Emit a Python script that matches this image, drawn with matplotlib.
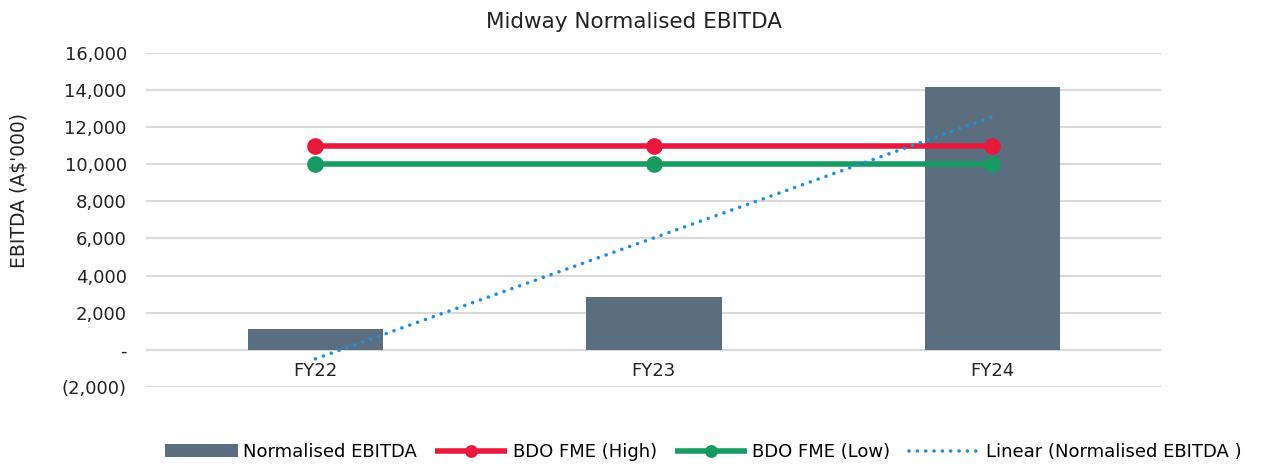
import numpy as np
import matplotlib
matplotlib.use("Agg")
import matplotlib.pyplot as plt
from matplotlib.ticker import FuncFormatter

# ---- data ----
years = ["FY22", "FY23", "FY24"]
ebitda = [1100, 2850, 14150]
fme_high = [11000, 11000, 11000]
fme_low = [10000, 10000, 10000]

BAR_C = "#5B6E80"
RED = "#E8193C"
GREEN = "#169B62"
BLUE = "#1F8FD6"
TXT = "#222222"

plt.rcParams["font.family"] = ["DejaVu Sans"]


def fmt(v, pos):
    if abs(v) < 1e-9:
        return "-"
    if v < 0:
        return f"({abs(v):,.0f})"
    return f"{v:,.0f}"


def main():
    fig = plt.figure(figsize=(12.61, 4.66), dpi=100)
    ax = fig.add_axes([0.116, 0.170, 0.805, 0.716])

    x = np.arange(len(years))
    h_bar = ax.bar(x, ebitda, width=0.4, color=BAR_C, label="Normalised EBITDA", zorder=2)
    h_hi, = ax.plot(x, fme_high, color=RED, lw=4, marker="o", ms=11,
                    label="BDO FME (High)", zorder=3, solid_capstyle="butt")
    h_lo, = ax.plot(x, fme_low, color=GREEN, lw=4, marker="o", ms=11,
                    label="BDO FME (Low)", zorder=3, solid_capstyle="butt")

    # linear trendline through the bar series
    k, b = np.polyfit(x, ebitda, 1)
    h_lin, = ax.plot(x, k * x + b, color=BLUE, lw=2.6, linestyle=(0, (0.01, 2.3)),
                     dash_capstyle="round", label="Linear (Normalised EBITDA )", zorder=4)

    ax.set_xlim(-0.5, 2.5)
    ax.set_ylim(-2000, 16000)
    ax.set_yticks(np.arange(-2000, 16001, 2000))
    ax.yaxis.set_major_formatter(FuncFormatter(fmt))
    ax.set_xticks(x)
    ax.set_xticklabels(years)

    ax.grid(axis="y", color="#D9D9D9", lw=1.5, zorder=0)
    ax.set_axisbelow(True)
    for s in ax.spines.values():
        s.set_visible(False)
    ax.spines["bottom"].set_position(("data", 0))
    ax.tick_params(axis="both", length=0, labelsize=13, colors=TXT)
    ax.tick_params(axis="x", pad=9)
    ax.tick_params(axis="y", pad=14)

    ax.set_ylabel("EBITDA (A$'000)", fontsize=13.5, color=TXT)
    ax.yaxis.set_label_coords(-0.116, 0.587)
    fig.text(0.503, 0.952, "Midway Normalised EBITDA", ha="center", va="center",
             fontsize=15.5, color=TXT)

    fig.legend([h_bar, h_hi, h_lo, h_lin],
               ["Normalised EBITDA", "BDO FME (High)", "BDO FME (Low)",
                "Linear (Normalised EBITDA )"],
               loc="center", bbox_to_anchor=(0.558, 0.03), ncol=4, frameon=False,
               fontsize=13, handlelength=4.0, handletextpad=0.3, columnspacing=1.0,
               markerscale=0.75)

    fig.savefig("out.png", dpi=100)


if __name__ == "__main__":
    main()
